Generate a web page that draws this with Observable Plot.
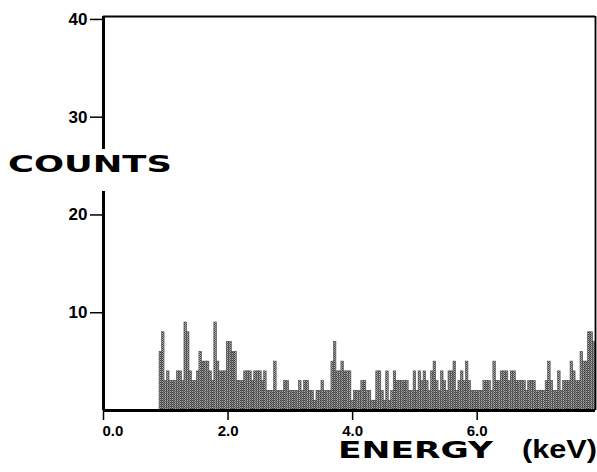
<!DOCTYPE html>
<html><head><meta charset="utf-8">
<script src="https://cdn.jsdelivr.net/npm/d3@7"></script>
<script src="https://cdn.jsdelivr.net/npm/@observablehq/plot@0.6"></script>
<style>
body{margin:0;background:#fff}
#chart{width:597px;height:472px}
</style>
</head><body><div id="chart"></div>
<script>
// Spectrum: counts per 0.04 keV channel, starting at 0.9 keV
const binStart = 0.9;
const binWidth = 0.04;
const counts = [
  6,8,3,4,3,3,3,4,4,3,9,8,4,3,3,4,6,5,5,5,4,3,9,5,4,4,4,7,
  7,6,6,3,3,3,4,4,4,3,4,4,4,3,4,2,2,2,5,2,2,2,3,3,2,2,2,2,3,2,
  3,3,2,2,1,2,2,3,2,2,2,5,7,4,4,5,4,4,4,1,2,2,2,3,3,2,2,1,1,
  4,4,2,1,4,1,2,4,3,3,3,3,3,2,2,4,2,4,3,4,3,2,4,5,3,2,4,3,2,
  4,4,5,2,3,4,3,5,3,2,2,2,2,2,3,3,3,2,5,3,3,4,4,4,3,4,4,3,3,
  3,3,2,3,3,3,2,2,2,2,3,5,3,2,2,4,2,3,3,3,5,4,3,3,6,5,5,8,8,7
];
const xTicks = [0, 2, 4, 6];
const yTicks = [10, 20, 30, 40];
const yLabel = "COUNTS";
const xLabel = "ENERGY";
const xUnit = "(keV)";

const bins = counts.map((c, i) => ({x1: binStart + i * binWidth, x2: binStart + (i + 1) * binWidth, c}));
const xMax = binStart + counts.length * binWidth;
const yMax = 40.3;
const font = "'Liberation Sans', Arial, sans-serif";

const plot = Plot.plot({
  width: 597, height: 472,
  marginLeft: 103, marginRight: 2, marginTop: 16, marginBottom: 62,
  x: {type: "linear", domain: [0, xMax]},
  y: {type: "linear", domain: [0, yMax]},
  style: {fontFamily: font, fontWeight: "bold", fontSize: "13px", color: "#000", background: "#fff"},
  marks: [
    Plot.rectY(bins, {x1: "x1", x2: "x2", y: "c", fill: "url(#stipple)", stroke: "#444", strokeWidth: 0.6}),
    Plot.ruleY([0], {stroke: "#000", strokeWidth: 3}),
    Plot.ruleY([yMax], {stroke: "#000", strokeWidth: 2.2}),
    Plot.ruleX([xMax], {stroke: "#000", strokeWidth: 1.8}),
    Plot.ruleX([0], {y1: 0, y2: 22.4, stroke: "#000", strokeWidth: 3}),
    Plot.ruleX([0], {y1: 26.7, y2: yMax, stroke: "#000", strokeWidth: 3}),
    Plot.axisY(yTicks, {tickSize: 13, strokeWidth: 1.5, label: null, tickFormat: () => ""}),
    Plot.axisX(xTicks, {tickSize: 10, strokeWidth: 1.5, label: null, tickFormat: () => ""}),
    Plot.text(yTicks, {x: 0, y: d => d, text: d => String(d), textAnchor: "end", dx: -16, fontSize: 17, fontWeight: "bold", fontFamily: font, fill: "#000"}),
    Plot.text(xTicks.filter(d => d > 0), {x: d => d, y: 0, text: d => d.toFixed(1), textAnchor: "middle", lineAnchor: "top", dy: 15, fontSize: 15, fontWeight: "bold", fontFamily: font, fill: "#000"}),
    Plot.text(xTicks.filter(d => d === 0), {x: d => d, y: 0, text: d => d.toFixed(1), textAnchor: "start", lineAnchor: "top", dy: 15, dx: -1, fontSize: 15, fontWeight: "bold", fontFamily: font, fill: "#000"})
  ]
});

const svg = d3.select(plot);
svg.insert("defs", ":first-child").html(
  '<pattern id="stipple" width="2" height="2" patternUnits="userSpaceOnUse">' +
  '<rect width="2" height="2" fill="#b0b0b0"/><rect width="1" height="1" fill="#3c3c3c"/>' +
  '<rect x="1" y="1" width="1" height="1" fill="#5c5c5c"/></pattern>');

function addLabel(txt, x, y, len, size, family, weight) {
  svg.append("text").text(txt)
    .attr("x", x).attr("y", y)
    .attr("text-anchor", "start")
    .attr("textLength", len).attr("lengthAdjust", "spacingAndGlyphs")
    .attr("font-family", family).attr("font-weight", weight)
    .style("font-size", size + "px").attr("fill", "#000");
}
addLabel(yLabel, 8, 172, 164, 23, "'DejaVu Sans', sans-serif", 900);
addLabel(xLabel, 338, 458, 155, 23, "'DejaVu Sans', sans-serif", 900);
addLabel(xUnit, 522, 458, 75, 26, font, 700);

document.getElementById("chart").appendChild(plot);
</script>
</body></html>
